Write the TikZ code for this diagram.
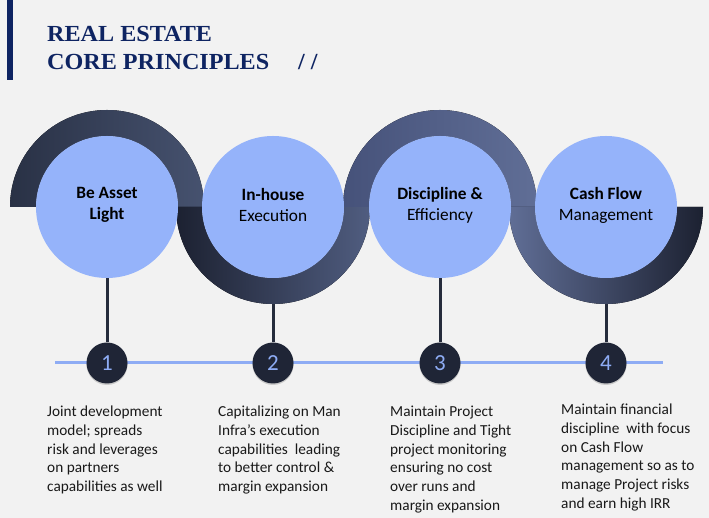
\documentclass[tikz,border=0pt]{standalone}
\usepackage{fontspec}
\setmainfont{Carlito}
\newfontfamily\titlufont[FakeStretch=1.05]{Liberation Serif}
\usetikzlibrary{positioning,calc,shadows}
\pgfdeclarelayer{background}
\pgfsetlayers{background,main}

\definecolor{fundal}{HTML}{F2F2F2}
\definecolor{bleumarin}{HTML}{0E2462}
\definecolor{cerc}{HTML}{95B3FA}
\definecolor{numar}{HTML}{1F2536}
\definecolor{linie}{HTML}{8EACF4}
\definecolor{tija}{HTML}{262C3C}
\definecolor{inelA}{HTML}{293145}
\definecolor{inelB}{HTML}{46526F}
\definecolor{inelC}{HTML}{1C2131}
\definecolor{inelD}{HTML}{505D80}
\definecolor{inelE}{HTML}{46527A}
\definecolor{inelF}{HTML}{606E96}

\tikzset{
  cerc/.style={circle, fill=cerc, minimum size=142pt, inner sep=0pt},
  eticheta/.style={align=center, inner sep=0pt, font=\fontsize{17.3}{21}\selectfont},
  numarcerc/.style={circle, fill=numar, minimum size=41pt, inner sep=0pt,
    text=linie, font=\fontsize{23}{23}\selectfont,
    drop shadow={shadow xshift=0pt, shadow yshift=-1.5pt, opacity=.35}},
  textjos/.style={anchor=north west, align=left, inner sep=0pt,
    text=black!90, font=\fontsize{15.3}{18.7}\selectfont},
  titlu/.style={anchor=base west, inner sep=0pt, text=bleumarin,
    font=\titlufont\bfseries\fontsize{23}{28}\selectfont}
}

\begin{document}
\begin{tikzpicture}[x=1pt,y=1pt]
  % titlul
  \fill[bleumarin] (7,438) rectangle (13,518);
  \node[titlu] (titlu1) at (47,476) {REAL ESTATE};
  \node[titlu] (titlu2) at (47,448) {CORE PRINCIPLES};
  \node[titlu] (slash) at (298,448) {/ /};

  % cercurile
  \node[cerc] (c1) at (107,311) {};
  \node[cerc] (c2) at (273,311) {};
  \node[cerc] (c3) at (440,311) {};
  \node[cerc] (c4) at (606,311) {};
  \node[eticheta] (e1) at ([yshift=2pt]c1.center) {\bfseries Be Asset\\\bfseries Light};
  \node[eticheta] (e2) at ([yshift=2pt]c2.center) {\bfseries In-house\\Execution};
  \node[eticheta] (e3) at ([yshift=2pt]c3.center) {\bfseries Discipline \&\\Efficiency};
  \node[eticheta] (e4) at ([yshift=2pt]c4.center) {\bfseries Cash Flow\\Management};

  % numerele
  \node[numarcerc] (n1) at (107,155) {1};
  \node[numarcerc] (n2) at (273,155) {2};
  \node[numarcerc] (n3) at (440,155) {3};
  \node[numarcerc] (n4) at (606,155) {4};

  % textele
  \node[textjos] (t1) at (47,112) {Joint development\\model; spreads\\risk and leverages\\on partners\\capabilities as well};
  \node[textjos] (t2) at (218,112) {Capitalizing on Man\\Infra's execution\\capabilities\ \ leading\\to better control \&\\margin expansion};
  \node[textjos] (t3) at (390,112) {Maintain Project\\Discipline and Tight\\project monitoring\\ensuring no cost\\over runs and\\margin expansion};
  \node[textjos] (t4) at (561,114) {Maintain financial\\discipline\ \ with focus\\on Cash Flow\\management so as to\\manage Project risks\\and earn high IRR};

  \begin{pgfonlayer}{background}
    % fundalul
    \fill[fundal] (0,0) rectangle (709,518);
    % tijele
    \foreach \i in {1,...,4}
      \draw[tija, line width=3pt] (c\i) -- (n\i);
    % linia orizontala
    \coordinate (ls) at (55,155);
    \coordinate (ld) at (663,155);
    \draw[linie, line width=3pt] (ls) -- (ld);
    % arcele
    \fill[left color=inelA, right color=inelB]
      ($(c1)+(-97,0)$) arc[start angle=180, end angle=0, radius=97pt]
      -- ($(c1)+(71,0)$) arc[start angle=0, end angle=180, radius=71pt] -- cycle;
    \fill[left color=inelC, right color=inelD]
      ($(c2)+(-97,0)$) arc[start angle=180, end angle=360, radius=97pt]
      -- ($(c2)+(71,0)$) arc[start angle=360, end angle=180, radius=71pt] -- cycle;
    \fill[left color=inelE, right color=inelF]
      ($(c3)+(-97,0)$) arc[start angle=180, end angle=0, radius=97pt]
      -- ($(c3)+(71,0)$) arc[start angle=0, end angle=180, radius=71pt] -- cycle;
    \fill[left color=inelF, right color=inelC]
      ($(c4)+(-97,0)$) arc[start angle=180, end angle=360, radius=97pt]
      -- ($(c4)+(71,0)$) arc[start angle=360, end angle=180, radius=71pt] -- cycle;
  \end{pgfonlayer}
\end{tikzpicture}
\end{document}
